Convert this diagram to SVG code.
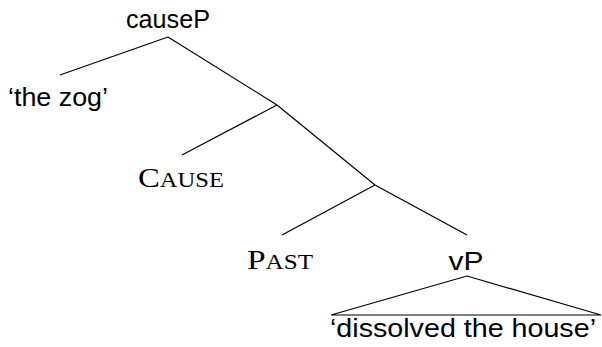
<svg xmlns="http://www.w3.org/2000/svg" width="602" height="347" viewBox="0 0 602 347">
<style>
.sans{font-family:"Liberation Sans",Arial,sans-serif;font-size:25px;fill:#000;text-anchor:middle}
.serif{font-family:"Liberation Serif","Times New Roman",serif;font-size:28px;fill:#000;text-anchor:middle}
.sc{font-size:21px}
.edge{stroke:#000;stroke-width:1.2;fill:none}
</style>
<rect width="602" height="347" fill="#fff"/>
<g id="connectors">
<line class="edge" x1="168" y1="37" x2="60" y2="75"/>
<line class="edge" x1="168" y1="37" x2="277" y2="105"/>
<line class="edge" x1="277" y1="105" x2="182" y2="155"/>
<line class="edge" x1="277" y1="105" x2="375" y2="185"/>
<line class="edge" x1="375" y1="185" x2="282" y2="235"/>
<line class="edge" x1="375" y1="185" x2="467" y2="235"/>
<polygon class="edge" points="467,276 331,315 601,315"/>
</g>
<g id="causeP"><text class="sans" x="168" y="28" textLength="84" lengthAdjust="spacingAndGlyphs">causeP</text></g>
<g id="thezog"><text class="sans" x="58" y="106" textLength="100" lengthAdjust="spacingAndGlyphs">‘the zog’</text></g>
<g id="cause"><text class="serif" x="181" y="187" textLength="86" lengthAdjust="spacingAndGlyphs">C<tspan class="sc">AUSE</tspan></text></g>
<g id="past"><text class="serif" x="280" y="269" textLength="66" lengthAdjust="spacingAndGlyphs">P<tspan class="sc">AST</tspan></text></g>
<g id="vP"><text class="sans" x="466" y="270" textLength="35" lengthAdjust="spacingAndGlyphs">vP</text></g>
<g id="dissolved"><text class="sans" x="463" y="337" textLength="266" lengthAdjust="spacingAndGlyphs">‘dissolved the house’</text></g>
</svg>
